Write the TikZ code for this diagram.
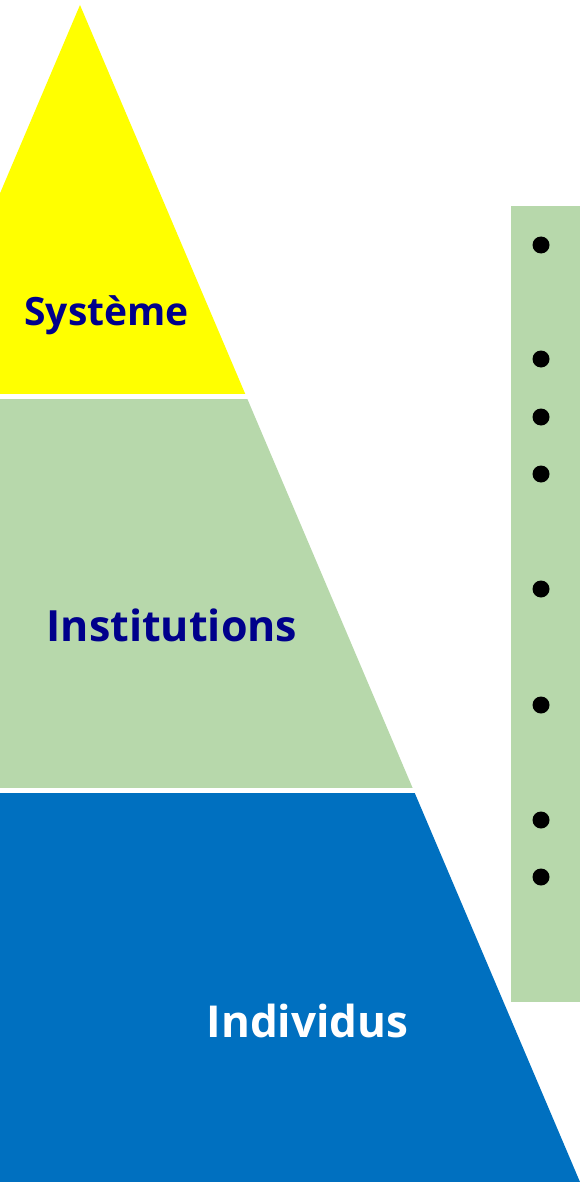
\documentclass[tikz,border=0pt]{standalone}
\usepackage{fontspec}
\setmainfont{Open Sans}
\usepackage{xcolor}
\usetikzlibrary{calc}

\definecolor{sysyellow}{HTML}{FFFF00}
\definecolor{instgreen}{HTML}{B7D8AB}
\definecolor{indblue}{HTML}{0070C0}
\definecolor{labelnavy}{HTML}{00008B}

\tikzset{
    layerlabel/.style={anchor=base, inner sep=0pt, font=\bfseries},
}

\begin{document}
\begin{tikzpicture}[x=1pt, y=-1pt]
    \useasboundingbox (0,0) rectangle (580,1182);

    % Pyramid outline points
    \coordinate (apex) at (80,5);
    \coordinate (baseR) at (580,1182);
    \coordinate (baseL) at (-420,1182);

    % Three layers, cut from the same triangle
    \foreach \col/\top/\bot in {sysyellow/0/393, instgreen/399.5/787.7, indblue/793.3/1182} {
        \begin{scope}
            \clip (-10,\top) rectangle (590,\bot);
            \fill[\col] (apex) -- (baseR) -- (baseL) -- cycle;
        \end{scope}
    }

    % Layer labels
    \node[layerlabel, text=labelnavy] (sys) at (106.5,325) {\fontsize{39}{39}\selectfont Système};
    \node[layerlabel, text=labelnavy] (inst) at (172,641) {\fontsize{43}{43}\selectfont Institutions};
    \node[layerlabel, text=white] (ind) at (307.5,1037) {\fontsize{44}{44}\selectfont Individus};

    % Side panel with bullets
    \fill[instgreen] (511,206) rectangle (590,1002);
    \foreach \y in {245,359,417,474,589,705,820,877} {
        \fill[black] (541,\y) circle (8.5pt);
    }
\end{tikzpicture}
\end{document}
